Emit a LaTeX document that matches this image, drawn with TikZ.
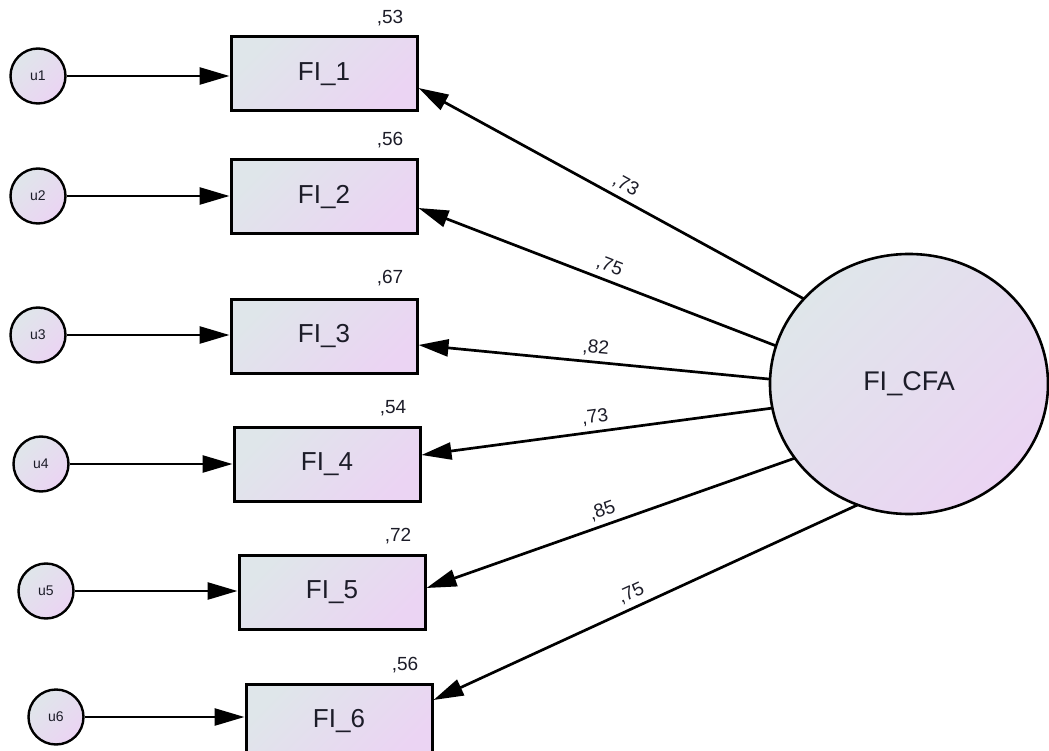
\documentclass[tikz,border=0pt]{standalone}
\usepackage{fontspec}
\setmainfont{Liberation Sans}
\usetikzlibrary{arrows.meta,calc,shapes.geometric}
\definecolor{gA}{HTML}{DFE6EA}
\definecolor{gB}{HTML}{EBD4F3}
\definecolor{txt}{HTML}{1C1C28}
\tikzset{
  grad/.style={draw=black, top color=gA, bottom color=gB, shading angle=45},
  obs/.style={grad, rectangle, line width=3pt, minimum width=186pt, minimum height=74pt, inner sep=0pt, font=\fontsize{26}{26}\selectfont, text=txt},
  err/.style={grad, circle, line width=2.4pt, minimum size=55pt, inner sep=0pt, font=\fontsize{14}{14}\selectfont, text=txt},
  lat/.style={grad, ellipse, line width=2.6pt, minimum width=278pt, minimum height=260pt, inner sep=0pt, outer sep=0pt, font=\fontsize{27}{27}\selectfont, text=txt},
  arr/.style={line width=2.7pt, -{Triangle[length=30pt,width=17pt]}},
  est/.style={font=\fontsize{19}{19}\selectfont, text=txt},
  lbl/.style={font=\fontsize{19}{19}\selectfont, text=txt, sloped, above, inner sep=5pt}
}
\begin{document}
\begin{tikzpicture}[x=1pt,y=-1pt]
\useasboundingbox (0,0) rectangle (1049,751);
\clip (0,0) rectangle (1049,751);
% observed
\node[obs] (fi1) at (324,74) {FI\_1};
\node[obs] (fi2) at (324,197) {FI\_2};
\node[obs] (fi3) at (324,336) {FI\_3};
\node[obs] (fi4) at (327,464) {FI\_4};
\node[obs] (fi5) at (332,592) {FI\_5};
\node[obs] (fi6) at (339,721) {FI\_6};
% errors
\node[err] (u1) at (38,76) {u1};
\node[err] (u2) at (38,196) {u2};
\node[err] (u3) at (38,335) {u3};
\node[err] (u4) at (41,464) {u4};
\node[err] (u5) at (46,591) {u5};
\node[err] (u6) at (56,717) {u6};
% latent
\node[lat] (cfa) at (909,384) {FI\_CFA};
% estimates
\node[est] (e1) at (390,18) {,53};
\node[est] (e2) at (390,140) {,56};
\node[est] (e3) at (390,278) {,67};
\node[est] (e4) at (393,408) {,54};
\node[est] (e5) at (398,536) {,72};
\node[est] (e6) at (405,665) {,56};
% error arrows
\draw[arr] (u1) -- (u1 -| fi1.west);
\draw[arr] (u2) -- (u2 -| fi2.west);
\draw[arr] (u3) -- (u3 -| fi3.west);
\draw[arr] (u4) -- (u4 -| fi4.west);
\draw[arr] (u5) -- (u5 -| fi5.west);
\draw[arr] (u6) -- (u6 -| fi6.west);
% loadings
\draw[arr] (cfa.141.4) -- node[lbl,pos=0.48] {,73} ([yshift=-14pt]fi1.east);
\draw[arr] (cfa.164.9) -- node[lbl,pos=0.48] {,75} ([yshift=-11pt]fi2.east);
\draw[arr] (cfa.178.8) -- node[lbl,pos=0.50] {,82} ([yshift=-9pt]fi3.east);
\draw[arr] (cfa.190.6) -- node[lbl,pos=0.50] {,73} ([yshift=9pt]fi4.east);
\draw[arr] (cfa.213.2) -- node[lbl,pos=0.51] {,85} ([yshift=4pt]fi5.east);
\draw[arr] (cfa.247.5) -- node[lbl,pos=0.52] {,75} ([yshift=21pt]fi6.east);
\end{tikzpicture}
\end{document}
